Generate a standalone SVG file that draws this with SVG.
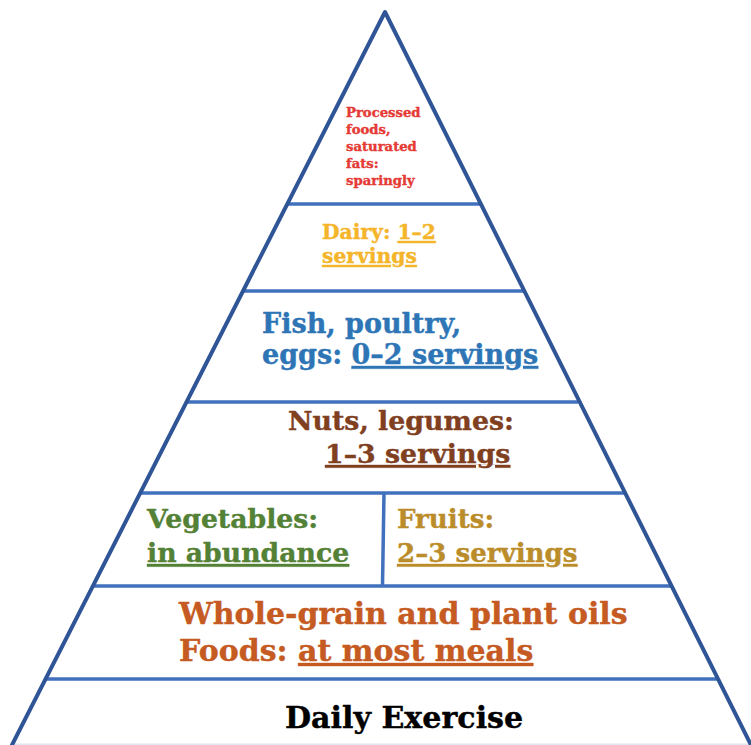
<svg xmlns="http://www.w3.org/2000/svg" width="751" height="745" viewBox="0 0 751 745">
  <style>
    .edge { stroke: #2f5597; stroke-width: 4; fill: none; stroke-linecap: round; stroke-linejoin: round; }
    .band { stroke: #4170bd; stroke-width: 3.5; fill: none; }
    .base { stroke: #e4e6f1; stroke-width: 1.5; }
    text { font-family: "DejaVu Serif", "Liberation Serif", Georgia, serif; font-weight: bold; stroke-width: 0.4; stroke-linejoin: round; }
    .u { text-decoration: underline; }
  </style>
  <rect width="751" height="745" fill="#ffffff"/>

  <!-- pyramid frame: sides and tier dividers -->
  <g id="frame">
    <line class="base" x1="12" y1="744.3" x2="751" y2="744.3"/>
    <line class="band" x1="286" y1="204" x2="482" y2="204"/>
    <line class="band" x1="243" y1="291" x2="525" y2="291"/>
    <line class="band" x1="187" y1="402" x2="578" y2="402"/>
    <line class="band" x1="140" y1="493" x2="626" y2="493"/>
    <line class="band" x1="93" y1="586" x2="672" y2="586"/>
    <line class="band" x1="46" y1="679" x2="719" y2="679"/>
    <line class="band" x1="384" y1="493" x2="382.5" y2="586"/>
    <polyline class="edge" points="12,745 385,12 751,745"/>
  </g>

  <g id="tier-processed" fill="#e53a35" stroke="#e53a35" font-size="13.2">
    <text x="346" y="117">Processed</text>
    <text x="346" y="134">foods,</text>
    <text x="346" y="151">saturated</text>
    <text x="346" y="168">fats:</text>
    <text x="346" y="185">sparingly</text>
  </g>

  <g id="tier-dairy" fill="#f5b52a" stroke="#f5b52a" font-size="20.3">
    <text x="322" y="239">Dairy: <tspan class="u">1–2</tspan></text>
    <text x="322" y="263" class="u">servings</text>
  </g>

  <g id="tier-protein" fill="#2e75b6" stroke="#2e75b6" font-size="27">
    <text x="262" y="333">Fish, poultry,</text>
    <text x="262" y="364">eggs: <tspan class="u">0–2 servings</tspan></text>
  </g>

  <g id="tier-nuts" fill="#80401f" stroke="#80401f" font-size="26.8">
    <text x="288" y="430">Nuts, legumes:</text>
    <text x="325" y="463" class="u">1–3 servings</text>
  </g>

  <g id="tier-vegetables" fill="#538135" stroke="#538135" font-size="26.7">
    <text x="147" y="528">Vegetables:</text>
    <text x="147" y="562" class="u">in abundance</text>
  </g>

  <g id="tier-fruits" fill="#bb8d2a" stroke="#bb8d2a" font-size="26.1">
    <text x="397" y="528">Fruits:</text>
    <text x="397" y="562" class="u">2–3 servings</text>
  </g>

  <g id="tier-grains" fill="#c55a22" stroke="#c55a22" font-size="30">
    <text x="179" y="624">Whole-grain and plant oils</text>
    <text x="179" y="661">Foods: <tspan class="u">at most meals</tspan></text>
  </g>

  <g id="tier-exercise" fill="#000000" stroke="#000000" font-size="30.1">
    <text x="285" y="728">Daily Exercise</text>
  </g>
</svg>
